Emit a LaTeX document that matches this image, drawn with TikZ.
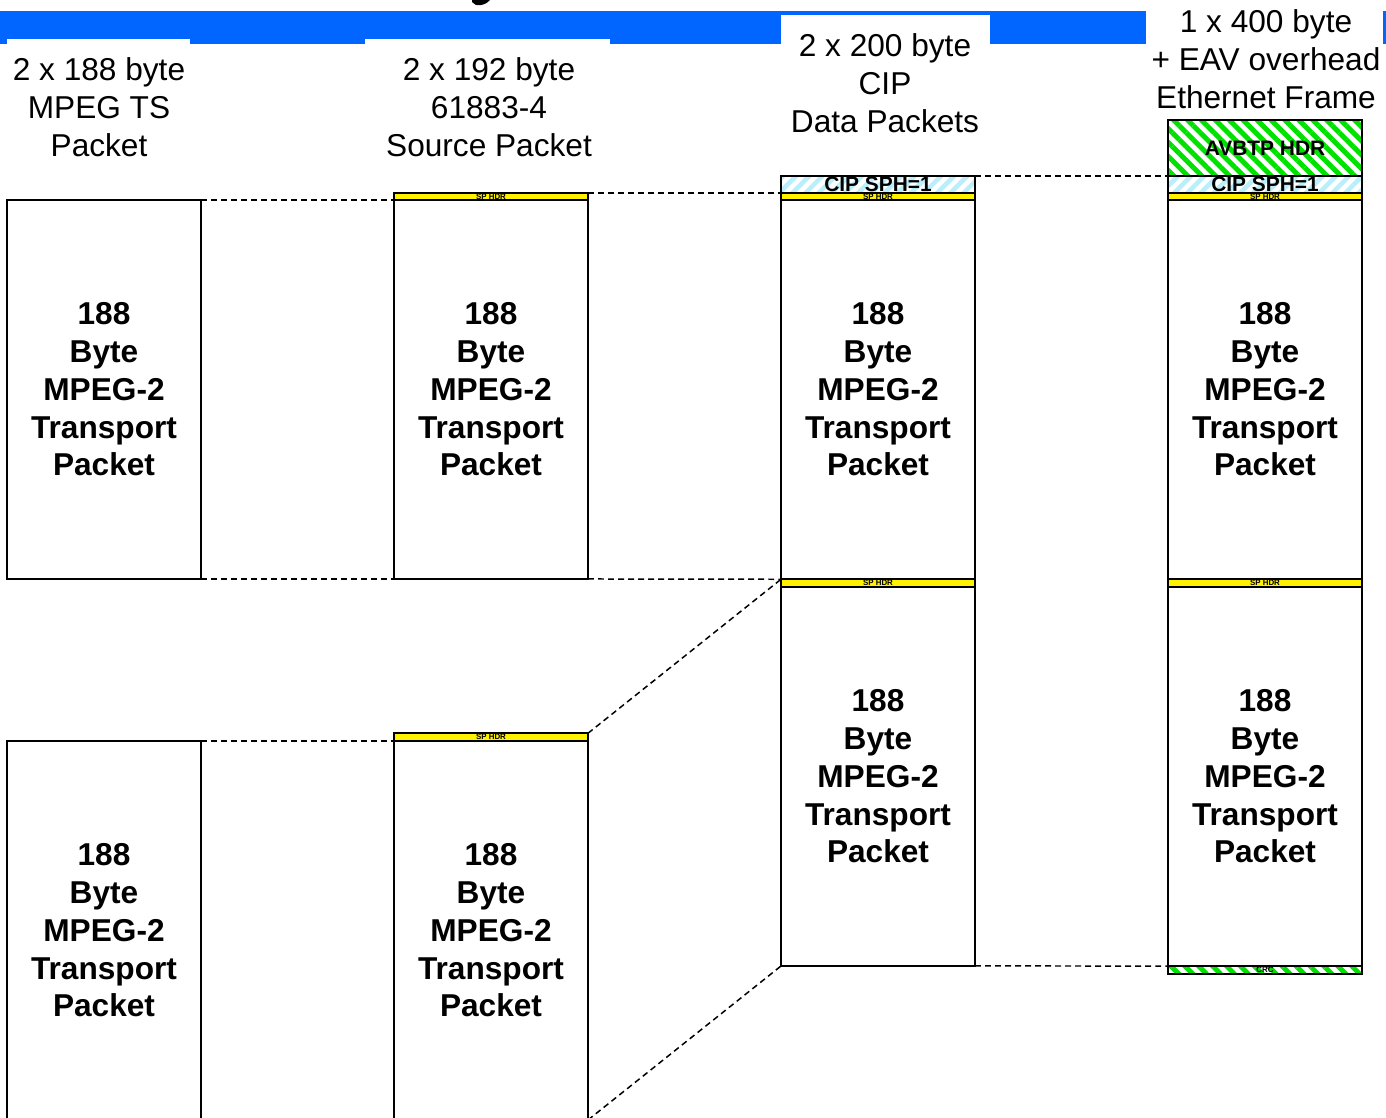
\documentclass[tikz,border=0pt]{standalone}
\usepackage{fontspec}
\setmainfont{Liberation Sans}
\usetikzlibrary{patterns.meta}
\definecolor{barblue}{RGB}{0,102,255}
\definecolor{hgreen}{RGB}{0,225,0}
\definecolor{hcyan}{RGB}{185,238,250}
\begin{document}
\begin{tikzpicture}[x=0.02cm,y=-0.02cm,
  every node/.style={outer sep=0pt},
  pkt/.style={draw=black,line width=1.1pt,fill=white,inner sep=0pt,
    minimum width=3.88cm,minimum height=7.58cm,
    font=\fontsize{18}{21.5}\selectfont\bfseries,align=center},
  sphdr/.style={draw=black,line width=0.9pt,fill=yellow,inner sep=0pt,
    minimum width=3.88cm,minimum height=0.15cm,
    font=\fontsize{4.5}{5}\selectfont\bfseries},
  cipstrip/.style={draw=black,line width=0.9pt,inner sep=0pt,
    minimum width=3.88cm,minimum height=0.34cm,
    pattern={Lines[angle=45,distance=5.3pt,line width=2.6pt]},pattern color=hcyan,
    font=\fontsize{11.9}{13}\selectfont\bfseries},
  avbtp/.style={draw=black,line width=1.1pt,inner sep=0pt,
    minimum width=3.88cm,minimum height=1.12cm,
    pattern={Lines[angle=-45,distance=5.6pt,line width=2.8pt]},pattern color=hgreen,
    font=\fontsize{11.9}{13}\selectfont\bfseries},
  crcstrip/.style={draw=black,line width=0.9pt,inner sep=0pt,
    minimum width=3.88cm,minimum height=0.16cm,
    pattern={Lines[angle=-45,distance=5.6pt,line width=2.8pt]},pattern color=hgreen,
    font=\fontsize{4.5}{5}\selectfont\bfseries},
  hdr/.style={inner sep=0pt,align=center,font=\fontsize{18}{21.5}\selectfont},
  link/.style={draw=black,line width=0.85pt,dash pattern=on 3.4pt off 2.3pt}
]
\useasboundingbox (0,0) rectangle (1386,1117);
\clip (0,0) rectangle (1386,1117);

% top banner
\fill[barblue] (0,11) rectangle (1386,44);
\fill[white] (7,39) rectangle (190,50);
\fill[white] (365,39) rectangle (610,50);
\fill[white] (781,15) rectangle (990,50);
\fill[white] (1146,0) rectangle (1383,50);
\fill[black] (472,0) -- (472,2) .. controls (475,7) and (485,6) .. (490,0) -- cycle;

% headers
\node[hdr] (h1) at (99,107) {2 x 188 byte\\MPEG TS\\Packet};
\node[hdr] (h2) at (489,107) {2 x 192 byte\\61883-4\\Source Packet};
\node[hdr] (h3) at (885,83) {2 x 200 byte\\CIP\\Data Packets};
\node[hdr] (h4) at (1266,59) {1 x 400 byte\\+ EAV overhead\\Ethernet Frame};

% column 1
\node[pkt] (b1a) at (104,389.5) {188\\Byte\\MPEG-2\\Transport\\Packet};
\node[pkt] (b1b) at (104,930.5) {188\\Byte\\MPEG-2\\Transport\\Packet};

% column 2
\node[pkt] (b2a) at (491,389.5) {188\\Byte\\MPEG-2\\Transport\\Packet};
\node[sphdr] (s2a) at (491,196.5) {SP HDR};
\node[pkt] (b2b) at (491,930.5) {188\\Byte\\MPEG-2\\Transport\\Packet};
\node[sphdr] (s2b) at (491,737) {SP HDR};

% column 3
\node[pkt] (b3a) at (878,389.5) {188\\Byte\\MPEG-2\\Transport\\Packet};
\node[pkt] (b3b) at (878,776.5) {188\\Byte\\MPEG-2\\Transport\\Packet};
\node[cipstrip] (c3) at (878,184.5) {\raisebox{-1pt}{CIP SPH=1}};
\node[sphdr] (s3a) at (878,196.5) {SP HDR};
\node[sphdr] (s3b) at (878,583) {SP HDR};

% column 4
\node[pkt] (b4a) at (1265,389.5) {188\\Byte\\MPEG-2\\Transport\\Packet};
\node[pkt] (b4b) at (1265,776.5) {188\\Byte\\MPEG-2\\Transport\\Packet};
\node[avbtp] (a4) at (1265,148) {AVBTP HDR};
\node[cipstrip] (c4) at (1265,184.5) {\raisebox{-1pt}{CIP SPH=1}};
\node[sphdr] (s4a) at (1265,196.5) {SP HDR};
\node[sphdr] (s4b) at (1265,583) {SP HDR};
\node[crcstrip] (r4) at (1265,970) {CRC};

% dashed connectors
\draw[link] (b1a.north east) -- (b2a.north west);
\draw[link] (b1a.south east) -- (b2a.south west);
\draw[link] (b1b.north east) -- (b2b.north west);
\draw[link] (s2a.north east) -- (s3a.north west);
\draw[link] (b2a.south east) -- (s3b.north west);
\draw[link] (s2b.north east) -- (s3b.north west);
\draw[link] (b2b.south east) -- (b3b.south west);
\draw[link] (c3.north east) -- (c4.north west);
\draw[link] (b3b.south east) -- (r4.north west);
\end{tikzpicture}
\end{document}
